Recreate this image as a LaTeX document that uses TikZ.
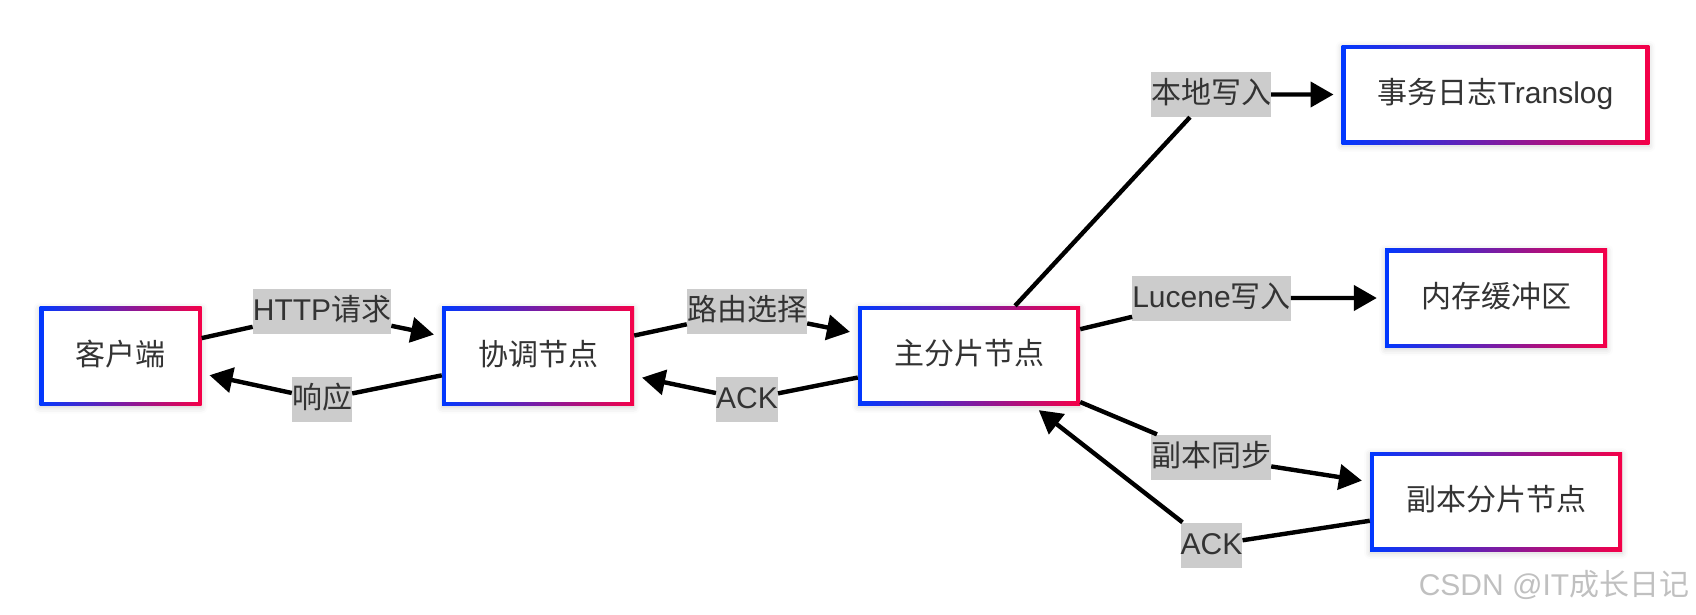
\documentclass[tikz,border=0pt]{standalone}
\usepackage{fontspec}
\setmainfont{Liberation Sans}
\newfontfamily\cjk{Noto Sans CJK SC}
\usetikzlibrary{arrows.meta,shadows.blur}
\definecolor{nodeblue}{RGB}{0,56,255}
\definecolor{nodered}{RGB}{245,0,72}
\definecolor{labelgray}{RGB}{204,204,204}
\definecolor{textgray}{RGB}{51,51,51}
\definecolor{markgray}{RGB}{192,192,192}
\newcommand{\bigfont}{\fontsize{30}{36}\selectfont}

\begin{document}
\begin{tikzpicture}[x=1pt,y=-1pt,
  gradbox/.style={fill=white,text=textgray,font=\bigfont,minimum height=99pt,
    inner xsep=36pt,inner ysep=0pt,text height=24pt,text depth=6pt,
    blur shadow={shadow xshift=0pt,shadow yshift=-2pt,shadow blur radius=6pt,shadow opacity=18},
    path picture={
      \shade[left color=nodeblue,right color=nodered]
        (path picture bounding box.south west) rectangle (path picture bounding box.north east);
      \fill[white] ([shift={(4pt,4pt)}]path picture bounding box.south west)
        rectangle ([shift={(-4pt,-4pt)}]path picture bounding box.north east);}},
  edgelabel/.style={fill=labelgray,text=textgray,font=\bigfont,inner sep=0pt,
    minimum height=45pt,text height=24pt,text depth=6pt},
  flow/.style={line width=4.4pt,-{Triangle[length=23pt,width=25pt]},shorten >=8pt}]
\useasboundingbox (0,0) rectangle (1696,614);

% nodes
\node[gradbox] (client) at (120.5,356) {\cjk 客户端};
\node[gradbox] (coord) at (538,356) {\cjk 协调节点};
\node[gradbox] (primary) at (969,355.5) {\cjk 主分片节点};
\node[gradbox] (translog) at (1495.5,94.5) {{\cjk 事务日志}Translog};
\node[gradbox] (membuf) at (1496,298) {\cjk 内存缓冲区};
\node[gradbox] (replica) at (1496,501.5) {\cjk 副本分片节点};

% edge labels
\node[edgelabel] (lblReq) at (322,311.5) {HTTP{\cjk 请求}};
\node[edgelabel] (lblResp) at (322,399.5) {\cjk 响应};
\node[edgelabel] (lblRoute) at (747,311.5) {\cjk 路由选择};
\node[edgelabel] (lblAckA) at (747,399.5) {ACK};
\node[edgelabel] (lblLocal) at (1211,94.5) {\cjk 本地写入};
\node[edgelabel] (lblLucene) at (1211.5,298) {Lucene{\cjk 写入}};
\node[edgelabel] (lblSync) at (1211,457) {\cjk 副本同步};
\node[edgelabel] (lblAckB) at (1211.5,545) {ACK};

% connectors
\draw[flow] (client) -- (lblReq) -- (coord);
\draw[flow] (coord) -- (lblResp) -- (client);
\draw[flow] (coord) -- (lblRoute) -- (primary);
\draw[flow] (primary) -- (lblAckA) -- (coord);
\draw[flow] (primary) -- (lblLocal) -- (translog);
\draw[flow] (primary) -- (lblLucene) -- (membuf);
\draw[flow] (primary) -- (lblSync) -- (replica);
\draw[flow] (replica) -- (lblAckB) -- (primary);

\node[font=\bigfont,text=markgray] (mark) at (1554,585) {CSDN @IT{\cjk 成长日记}};
\end{tikzpicture}
\end{document}
